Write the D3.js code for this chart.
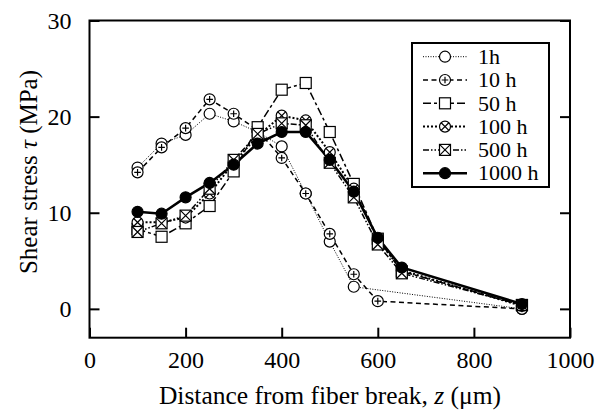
<!DOCTYPE html>
<html lang="en">
<head>
    <meta charset="UTF-8">
    <title>Shear stress vs distance</title>
    <script src="https://d3js.org/d3.v7.min.js"></script>
    <style>
        body { margin: 0; background: #fff; }
        text { font-family: "Liberation Serif", "Times New Roman", serif; fill: #000; }
    </style>
</head>
<body>
    <svg id="chart" width="607" height="411"></svg>

    <script>
        // distances (um) at which each series was measured
        const zShort = [100, 150, 200, 250, 300, 350, 400, 450, 500, 550, 900];
        const zMid = [100, 150, 200, 250, 300, 350, 400, 450, 500, 550, 600, 900];
        const zLong = [100, 150, 200, 250, 300, 350, 400, 450, 500, 550, 600, 650, 900];

        // shear stress (MPa)
        const tau1h = [14.7, 17.2, 18.1, 20.3, 19.5, 18.4, 16.9, 12.0, 7.0, 2.3, 0.0];
        const tau10h = [14.2, 16.8, 18.8, 21.8, 20.3, 18.6, 15.7, 12.0, 7.8, 3.6, 0.8, 0.0];
        const tau50h = [8.3, 7.5, 8.9, 10.7, 14.3, 18.9, 22.8, 23.5, 18.4, 13.0, 7.3, 3.9, 0.4];
        const tau100h = [9.0, 9.0, 9.5, 12.0, 15.2, 18.0, 20.1, 19.6, 16.3, 12.5, 7.2, 4.0, 0.3];
        const tau500h = [8.0, 8.9, 9.7, 12.5, 15.5, 18.2, 19.3, 19.1, 15.2, 11.6, 6.7, 3.7, 0.4];
        const tau1000h = [10.1, 9.9, 11.6, 13.1, 15.0, 17.2, 18.4, 18.4, 15.5, 12.2, 7.4, 4.3, 0.5];

        const seriesNames = ["1h", "10h", "50h", "100h", "500h", "1000h"];
        const legendLabels = ["1h", "10 h", "50 h", "100 h", "500 h", "1000 h"];

        const xTicks = [0, 200, 400, 600, 800, 1000];
        const yTicks = [0, 10, 20, 30];

        const series = [
            { name: "1h", z: zShort, v: tau1h, dash: "1,1.5", width: 1, marker: "circle" },
            { name: "10h", z: zMid, v: tau10h, dash: "5,3.5", width: 1.5, marker: "circlePlus" },
            { name: "50h", z: zLong, v: tau50h, dash: "8,3,3,3", width: 1.5, marker: "square" },
            { name: "100h", z: zLong, v: tau100h, dash: "2,2", width: 2, marker: "circleX" },
            { name: "500h", z: zLong, v: tau500h, dash: "6,2,1.5,2,1.5,2", width: 1.5, marker: "squareX" },
            { name: "1000h", z: zLong, v: tau1000h, dash: null, width: 2.5, marker: "filled" }
        ];

        const svg = d3.select("#chart");
        const plotLeft = 89.5, plotRight = 570, plotTop = 20.5, plotBottom = 337.7;

        const x = d3.scaleLinear().domain([0, 1000]).range([plotLeft, plotRight]);
        const y = d3.scaleLinear().domain([-3, 30]).range([plotBottom, plotTop]);

        // inward ticks
        const gx = svg.append("g")
            .attr("transform", `translate(0,${plotBottom})`)
            .call(d3.axisBottom(x).tickValues(xTicks).tickFormat(d3.format("d"))
                .tickSizeInner(-10).tickSizeOuter(0).tickPadding(16));
        const gy = svg.append("g")
            .attr("transform", `translate(${plotLeft},0)`)
            .call(d3.axisLeft(y).tickValues(yTicks).tickSizeInner(-10).tickSizeOuter(0).tickPadding(18));
        const gyr = svg.append("g")
            .attr("transform", `translate(${plotRight},0)`)
            .call(d3.axisRight(y).tickValues(yTicks).tickSizeInner(-10).tickSizeOuter(0).tickFormat(""));

        [gx, gy, gyr].forEach(g => {
            g.select(".domain").remove();
            g.selectAll(".tick line").attr("stroke", "#000").attr("stroke-width", 2);
            g.selectAll(".tick text").attr("font-size", 24).attr("fill", "#000")
                .style("font-family", '"Liberation Serif", serif');
        });
        gx.selectAll(".tick text").attr("dy", "0.6em");
        gy.selectAll(".tick text").attr("dy", "0.33em");

        svg.append("rect")
            .attr("x", plotLeft).attr("y", plotTop)
            .attr("width", plotRight - plotLeft).attr("height", plotBottom - plotTop)
            .attr("fill", "none").attr("stroke", "#000").attr("stroke-width", 2);

        // axis titles
        const xTitle = svg.append("text")
            .attr("x", 330).attr("y", 404)
            .attr("text-anchor", "middle").attr("font-size", 25.5);
        xTitle.append("tspan").text("Distance from fiber break, ");
        xTitle.append("tspan").attr("font-style", "italic").text("z");
        xTitle.append("tspan").text(" (\u03bcm)");

        const yTitle = svg.append("text")
            .attr("transform", "translate(37,172) rotate(-90)")
            .attr("text-anchor", "middle").attr("font-size", 25);
        yTitle.append("tspan").text("Shear stress ");
        yTitle.append("tspan").attr("font-style", "italic").text("\u03c4");
        yTitle.append("tspan").text(" (MPa)");

        // markers
        function drawMarker(g, type, cx, cy) {
            const r = 5.5;
            const m = g.append("g").attr("transform", `translate(${cx},${cy})`)
                .attr("stroke", "#000").attr("stroke-width", 1.2);
            if (type === "square" || type === "squareX") {
                m.append("rect").attr("x", -r).attr("y", -r).attr("width", 2 * r).attr("height", 2 * r).attr("fill", "#fff");
                if (type === "squareX") {
                    m.append("path").attr("d", `M${-r},${-r}L${r},${r}M${r},${-r}L${-r},${r}`);
                }
                return;
            }
            m.append("circle").attr("r", r).attr("fill", type === "filled" ? "#000" : "#fff");
            if (type === "circlePlus") {
                m.append("path").attr("d", `M${-r * 0.6},0H${r * 0.6}M0,${-r * 0.6}V${r * 0.6}`);
            } else if (type === "circleX") {
                const d = r * 0.7;
                m.append("path").attr("d", `M${-d},${-d}L${d},${d}M${d},${-d}L${-d},${d}`);
            }
        }

        const line = d3.line().x(d => x(d[0])).y(d => y(d[1]));

        series.forEach(s => {
            const pts = s.z.map((z, i) => [z, s.v[i]]);
            svg.append("path")
                .datum(pts)
                .attr("fill", "none")
                .attr("stroke", "#000")
                .attr("stroke-width", s.width)
                .attr("stroke-dasharray", s.dash)
                .attr("d", line);
        });
        series.forEach(s => {
            const g = svg.append("g");
            s.z.forEach((z, i) => drawMarker(g, s.marker, x(z), y(s.v[i])));
        });

        // legend
        const lg = svg.append("g");
        lg.append("rect")
            .attr("x", 412).attr("y", 43).attr("width", 137).attr("height", 144)
            .attr("fill", "#fff").attr("stroke", "#000").attr("stroke-width", 2);
        series.forEach((s, i) => {
            const ly = 56.7 + i * 23.3;
            lg.append("path")
                .attr("d", `M423,${ly}H467`)
                .attr("fill", "none").attr("stroke", "#000")
                .attr("stroke-width", s.width).attr("stroke-dasharray", s.dash);
            drawMarker(lg, s.marker, 445, ly);
            lg.append("text")
                .attr("x", 478).attr("y", ly).attr("dy", "0.33em")
                .attr("font-size", 22)
                .text(legendLabels[seriesNames.indexOf(s.name)]);
        });
    </script>
</body>
</html>
